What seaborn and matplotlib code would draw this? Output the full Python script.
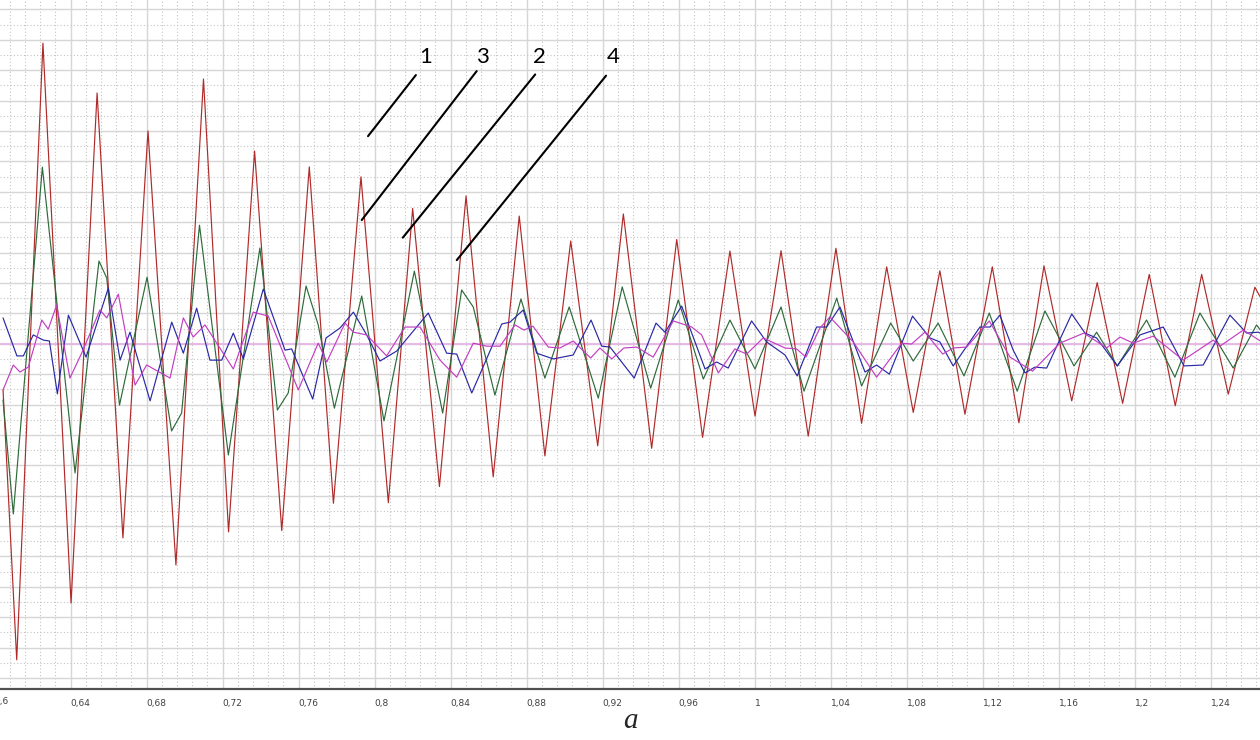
import numpy as np
import pandas as pd
import matplotlib
matplotlib.use("Agg")
import matplotlib.pyplot as plt
from matplotlib.ticker import MultipleLocator, FuncFormatter
import matplotlib.transforms as mtransforms
import seaborn as sns

# ---- data (y in grid units, zero at the pink line) ----
red_x = [0.6044, 0.6116, 0.6254, 0.6402, 0.6539, 0.6675, 0.6807, 0.6954, 0.7099, 0.7231,
         0.7368, 0.7511, 0.7656, 0.7783, 0.7928, 0.8072, 0.8200, 0.8341, 0.8481, 0.8624,
         0.8761, 0.8896, 0.9032, 0.9174, 0.9309, 0.9458, 0.9590, 0.9726, 0.9870, 1.0002,
         1.0139, 1.0282, 1.0428, 1.0563, 1.0695, 1.0835, 1.0975, 1.1107, 1.1251, 1.1391,
         1.1523, 1.1669, 1.1803, 1.1937, 1.2077, 1.2214, 1.2353, 1.2493, 1.2633, 1.2670]
red_y = [-1.52, -10.40, 9.89, -8.53, 8.25, -6.39, 7.00, -7.28, 8.71, -6.19,
         6.34, -6.15, 5.82, -5.25, 5.49, -5.23, 4.45, -4.70, 4.86, -4.38,
         4.20, -3.69, 3.38, -3.36, 4.27, -3.44, 3.43, -3.08, 3.05, -2.38,
         3.06, -3.04, 3.14, -2.62, 2.53, -2.26, 2.40, -2.32, 2.53, -2.60,
         2.56, -1.88, 2.01, -1.96, 2.28, -2.04, 2.28, -1.66, 1.86, 1.44]

green_x = [0.6044, 0.6098, 0.6251, 0.6423, 0.6549, 0.6590, 0.6657, 0.6802, 0.6931, 0.6984,
           0.7078, 0.7230, 0.7396, 0.7488, 0.7545, 0.7639, 0.7703, 0.7788, 0.7932, 0.8049,
           0.8209, 0.8358, 0.8458, 0.8519, 0.8633, 0.8770, 0.8896, 0.9024, 0.9177, 0.9303,
           0.9453, 0.9598, 0.9730, 0.9870, 1.0002, 1.0139, 1.0260, 1.0432, 1.0563, 1.0716,
           1.0835, 1.0966, 1.1102, 1.1235, 1.1382, 1.1528, 1.1681, 1.1800, 1.1909, 1.2063,
           1.2212, 1.2344, 1.2519, 1.2642, 1.2670]
green_y = [-1.85, -5.60, 5.81, -4.25, 2.72, 2.16, -2.02, 2.19, -2.87, -2.28,
           3.90, -3.66, 3.15, -2.18, -1.62, 1.90, 0.62, -2.12, 1.57, -2.54,
           2.39, -2.28, 1.77, 1.21, -1.69, 1.47, -1.13, 1.21, -1.79, 1.87,
           -1.46, 1.44, -1.16, 0.78, -0.83, 1.21, -1.56, 1.50, -1.39, 0.68,
           -0.57, 0.68, -1.06, 1.01, -1.56, 1.08, -0.73, 0.38, -0.73, 0.78,
           -1.10, 1.01, -0.80, 0.62, 0.38]

blue_x = [0.6044, 0.6117, 0.6151, 0.6203, 0.6256, 0.6288, 0.6330, 0.6388, 0.6481, 0.6598,
          0.6660, 0.6712, 0.6818, 0.6932, 0.6993, 0.7063, 0.7133, 0.7195, 0.7256, 0.7309,
          0.7414, 0.7528, 0.7563, 0.7674, 0.7744, 0.7818, 0.7888, 0.7958, 0.8028, 0.8116,
          0.8282, 0.8379, 0.8432, 0.8511, 0.8669, 0.8712, 0.8782, 0.8853, 0.8940, 0.9045,
          0.9139, 0.9195, 0.9239, 0.9366, 0.9481, 0.9528, 0.9616, 0.9739, 0.9800, 0.9861,
          0.9984, 1.0063, 1.0160, 1.0224, 1.0326, 1.0379, 1.0449, 1.0581, 1.0642, 1.0709,
          1.0831, 1.0923, 1.0975, 1.1045, 1.1186, 1.1239, 1.1291, 1.1361, 1.1423, 1.1475,
          1.1537, 1.1669, 1.1739, 1.1800, 1.1909, 1.2028, 1.2151, 1.2260, 1.2361, 1.2502,
          1.2590, 1.2651, 1.2670]
blue_y = [0.85, -0.40, -0.40, 0.29, 0.12, 0.09, -1.65, 0.94, -0.44, 1.83,
          -0.54, 0.38, -1.88, 0.71, -0.31, 1.17, -0.54, -0.54, 0.35, -0.50,
          1.80, -0.21, -0.17, -1.82, 0.19, 0.52, 1.04, 0.29, -0.57, -0.24,
          1.01, -0.31, -0.34, -1.62, 0.65, 0.71, 1.11, -0.31, -0.50, -0.37,
          0.78, -0.08, -0.11, -1.13, 0.68, 0.38, 1.24, -0.83, -0.60, -0.80,
          0.75, 0.06, -0.37, -1.06, 0.55, 0.55, 1.21, -0.93, -0.70, -1.00,
          0.91, 0.19, 0.06, -0.73, 0.55, 0.55, 0.94, -0.21, -0.96, -0.77,
          -0.80, 0.98, 0.35, 0.19, -0.73, 0.29, 0.55, -0.73, -0.70, 0.94,
          0.35, 0.38, 0.32]

magenta_x = [0.6044, 0.6098, 0.6133, 0.6177, 0.6248, 0.6282, 0.6326, 0.6396, 0.6458, 0.6554,
             0.6590, 0.6651, 0.6739, 0.6800, 0.6923, 0.6993, 0.7045, 0.7107, 0.7256, 0.7361,
             0.7440, 0.7598, 0.7703, 0.7748, 0.7844, 0.7888, 0.7958, 0.8063, 0.8160, 0.8239,
             0.8344, 0.8432, 0.8519, 0.8590, 0.8660, 0.8739, 0.8786, 0.8833, 0.8914, 0.8975,
             0.9045, 0.9137, 0.9186, 0.9248, 0.9312, 0.9379, 0.9466, 0.9572, 0.9669, 0.9721,
             0.9809, 0.9896, 0.9958, 1.0045, 1.0160, 1.0221, 1.0270, 1.0344, 1.0396, 1.0519,
             1.0642, 1.0774, 1.0826, 1.0896, 1.0990, 1.1045, 1.1116, 1.1235, 1.1344, 1.1463,
             1.1607, 1.1733, 1.1853, 1.1923, 1.1993, 1.2098, 1.2256, 1.2414, 1.2449, 1.2572,
             1.2670]
magenta_y = [-1.52, -0.70, -0.93, -0.77, 0.78, 0.48, 1.27, -1.13, -0.31, 1.11,
             0.85, 1.63, -1.36, -0.70, -1.13, 0.85, 0.22, 0.62, -0.83, 1.04,
             0.91, -1.52, 0.02, -0.60, 0.68, 0.38, 0.29, -0.40, 0.55, 0.55,
             -0.54, -1.10, 0.02, -0.08, -0.08, 0.62, 0.45, 0.58, -0.11, -0.14,
             0.09, -0.47, -0.14, -0.50, -0.14, -0.11, -0.44, 0.75, 0.55, 0.29,
             -0.96, -0.17, -0.34, 0.19, -0.14, -0.17, -0.44, 0.52, 0.88, 0.06,
             -1.10, 0.02, -0.01, 0.38, -0.34, -0.14, -0.11, 0.75, -0.44, -0.90,
             0.02, 0.35, -0.14, 0.22, 0.02, 0.25, -0.54, 0.12, -0.08, 0.45,
             0.06]

curve_names = ["red", "green", "blue", "magenta"]
curve_colors = ["#b02a2a", "#2e6a3a", "#2828a6", "#c23ec2"]

# callout numbers on the leader lines
callout_labels = ["1", "3", "2", "4"]

# ---- build long table ----
frames = []
for name, xs, ys in zip(curve_names,
                        [red_x, green_x, blue_x, magenta_x],
                        [red_y, green_y, blue_y, magenta_y]):
    frames.append(pd.DataFrame({"a": xs, "v": ys, "curve": name}))
df = pd.concat(frames, ignore_index=True)

sns.set_style("white")
plt.rcParams["font.family"] = ["DejaVu Sans"]

fig = plt.figure(figsize=(12.6, 7.4), dpi=100)
ax = fig.add_axes([0.0, 51 / 740, 1.0, 689 / 740])

ax.set_xlim(0.6028, 1.2660)
ax.set_ylim(-11.36, 11.31)

# grid
ax.xaxis.set_major_locator(MultipleLocator(0.04))
ax.xaxis.set_minor_locator(MultipleLocator(0.008))
ax.yaxis.set_major_locator(MultipleLocator(1))
ax.yaxis.set_minor_locator(MultipleLocator(0.5))
ax.grid(which="major", color="#d6d6d6", lw=1.0, ls="-")
ax.grid(which="minor", color="#c4c4c4", lw=0.8, ls=(0, (1, 2)))
ax.set_axisbelow(True)

# zero line
ax.axhline(0, color="#e6b4e6", lw=1.3, zorder=1)

sns.lineplot(data=df, x="a", y="v", hue="curve", hue_order=curve_names,
             palette=curve_colors, estimator=None, sort=False,
             linewidth=0.85, legend=False, ax=ax, zorder=3)

# leader lines + numbers
line_from = [(0.8217, 8.84), (0.8537, 8.97), (0.8845, 8.86), (0.9218, 8.82)]
line_to = [(0.7965, 6.83), (0.7932, 4.07), (0.8148, 3.49), (0.8432, 2.75)]
label_x = [0.8270, 0.8569, 0.8866, 0.9256]
for lbl, p0, p1, lx in zip(callout_labels, line_from, line_to, label_x):
    ax.plot([p0[0], p1[0]], [p0[1], p1[1]], color="black", lw=1.5, zorder=5)
    ax.text(lx, 9.42, lbl, ha="center", va="center", fontsize=16,
            family=["Lato", "DejaVu Sans"], color="black", zorder=5)

# axes styling
for side in ["top", "left", "right"]:
    ax.spines[side].set_visible(False)
ax.spines["bottom"].set_color("#505050")
ax.spines["bottom"].set_linewidth(1.6)

fmt = FuncFormatter(lambda x, pos: f"{x:.2f}".rstrip("0").rstrip(".").replace(".", ","))
ax.xaxis.set_major_formatter(fmt)
ax.tick_params(axis="x", which="major", direction="out", length=6, width=1,
               color="#505050", labelsize=6.5, labelcolor="#404040", pad=1.5)
ax.tick_params(axis="x", which="minor", direction="out", length=3.5, width=1,
               color="#505050")
ax.tick_params(axis="y", which="both", left=False, labelleft=False)
plt.setp(ax.get_xticklabels(), ha="left")

# the first tick label sits just outside the left limit and is partly cut
trans = mtransforms.blended_transform_factory(ax.transData, ax.transAxes)
ax.text(0.60, -0.0115, fmt(0.60, 0), transform=trans, ha="left", va="top",
        fontsize=6.5, color="#404040", clip_on=False)

ax.set_ylabel("")
ax.set_xlabel("a", fontsize=21, fontstyle="italic",
              family=["Liberation Serif", "DejaVu Serif"], labelpad=0)

fig.savefig("out.png", dpi=100)
